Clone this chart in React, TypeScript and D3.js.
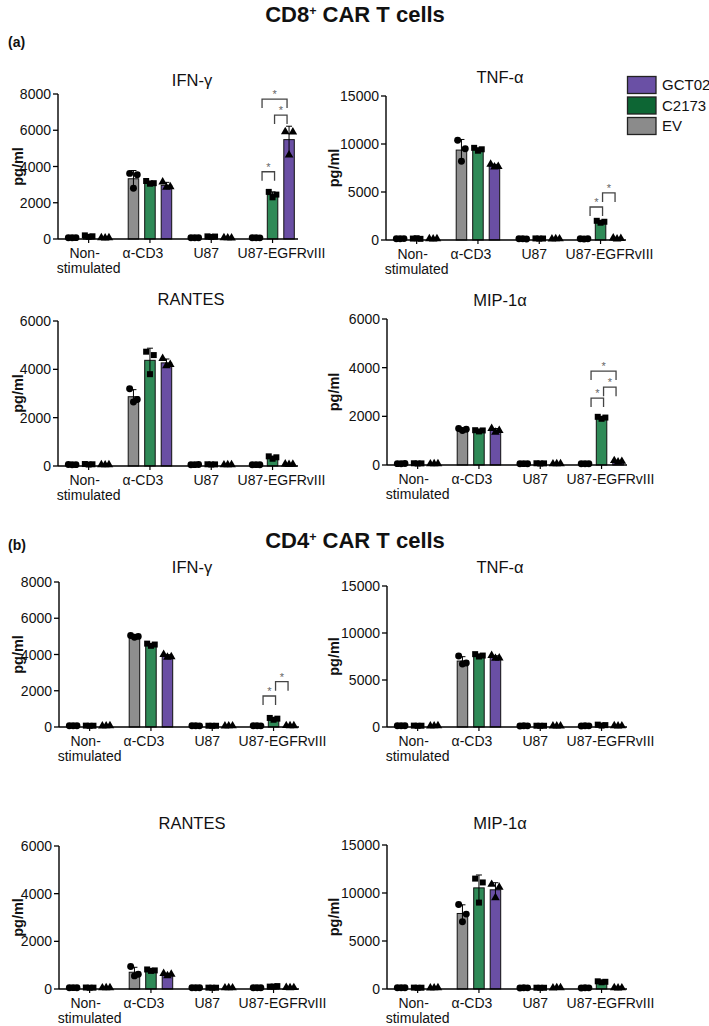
import React from "react";
import * as d3 from "d3";

// ---------- data ----------
const CATEGORIES = ["Non-stimulated", "α-CD3", "U87", "U87-EGFRvIII"];
const CATEGORY_LINES = [["Non-", "stimulated"], ["α-CD3"], ["U87"], ["U87-EGFRvIII"]];
const SERIES = ["EV", "C2173", "GCT02"];
const LEGEND_ORDER = ["GCT02", "C2173", "EV"];

// replicates: [series EV, C2173, GCT02][category][replicate]
const CD8_IFNG = [
  [[15, 10, 20], [3620, 2800, 3550], [10, 15, 12], [10, 15, 8]],
  [[200, 120, 150], [3200, 3050, 3080], [90, 60, 80], [2600, 2300, 2450]],
  [[10, 5, 12], [3150, 2850, 2880], [10, 8, 5], [5920, 4630, 5900]],
];
const CD8_TNFA = [
  [[30, 20, 40], [10400, 8200, 9500], [20, 30, 10], [20, 10, 30]],
  [[150, 80, 120], [9600, 9300, 9450], [60, 40, 50], [2000, 1800, 1900]],
  [[20, 10, 30], [7900, 7600, 7650], [10, 20, 15], [200, 100, 150]],
];
const CD8_RANTES = [
  [[20, 10, 15], [3200, 2650, 2750], [10, 15, 20], [10, 15, 12]],
  [[40, 20, 30], [4730, 3800, 4590], [30, 20, 25], [400, 300, 360]],
  [[10, 5, 8], [4450, 4150, 4200], [5, 10, 8], [40, 20, 30]],
];
const CD8_MIP = [
  [[15, 10, 20], [1500, 1420, 1470], [10, 15, 12], [10, 12, 8]],
  [[30, 20, 25], [1430, 1380, 1420], [30, 20, 25], [1980, 1900, 1950]],
  [[5, 8, 10], [1500, 1350, 1420], [5, 10, 8], [180, 120, 150]],
];
const CD4_IFNG = [
  [[10, 15, 12], [5050, 4950, 5000], [10, 12, 8], [10, 12, 8]],
  [[20, 10, 15], [4600, 4480, 4550], [15, 10, 12], [500, 400, 460]],
  [[5, 8, 10], [4000, 3850, 3880], [5, 8, 6], [20, 10, 15]],
];
const CD4_TNFA = [
  [[20, 30, 25], [7550, 6700, 6800], [10, 20, 15], [10, 20, 15]],
  [[40, 20, 30], [7750, 7500, 7600], [30, 20, 25], [250, 150, 200]],
  [[10, 15, 20], [7600, 7300, 7350], [10, 5, 8], [20, 10, 15]],
];
const CD4_RANTES = [
  [[10, 15, 12], [940, 550, 620], [10, 12, 8], [10, 12, 8]],
  [[20, 10, 15], [820, 760, 780], [15, 10, 12], [100, 60, 80]],
  [[5, 8, 10], [650, 560, 620], [5, 8, 6], [20, 10, 15]],
];
const CD4_MIP = [
  [[20, 30, 25], [8800, 7000, 7800], [10, 20, 15], [10, 20, 15]],
  [[40, 20, 30], [11500, 9000, 11100], [30, 20, 25], [800, 700, 750]],
  [[10, 15, 20], [10900, 9500, 10600], [10, 40, 20], [20, 10, 15]],
];

// significance brackets (category U87-EGFRvIII), height in pg/ml
const CD8_IFNG_SIG = [
  { from: "EV", to: "C2173", at: 3710 },
  { from: "C2173", to: "GCT02", at: 6840 },
  { from: "EV", to: "GCT02", at: 7720 },
];
const CD8_TNFA_SIG = [
  { from: "EV", to: "C2173", at: 3440 },
  { from: "C2173", to: "GCT02", at: 4900 },
];
const CD8_MIP_SIG = [
  { from: "EV", to: "C2173", at: 2750 },
  { from: "C2173", to: "GCT02", at: 3200 },
  { from: "EV", to: "GCT02", at: 3860 },
];
const CD4_IFNG_SIG = [
  { from: "EV", to: "C2173", at: 1710 },
  { from: "C2173", to: "GCT02", at: 2500 },
];

// ---------- styles / layout ----------
const FONT = "'Liberation Sans', Arial, Helvetica, sans-serif";
const COLORS: Record<string, string> = { EV: "#8e8e8e", C2173: "#2f8a57", GCT02: "#6a4fa4" };
const LEGEND_COLORS: Record<string, string> = { EV: "#8b8b8b", C2173: "#0d6634", GCT02: "#6a50a5" };
const SYMBOLS: Record<string, any> = { EV: d3.symbolCircle, C2173: d3.symbolSquare, GCT02: d3.symbolTriangle };
const BRACKET_DX: Record<string, number> = { EV: 6, C2173: 2, GCT02: -2 };
const LABEL_DX = [-4, -7, -5, 9];

const PANELS = [
  { title: "IFN-γ", data: CD8_IFNG, max: 8000, step: 2000, ax: 58, yTop: 94, y0: 239, tx: 192, ty: 80, sig: CD8_IFNG_SIG },
  { title: "TNF-α", data: CD8_TNFA, max: 15000, step: 5000, ax: 386, yTop: 96, y0: 240, tx: 500, ty: 77, sig: CD8_TNFA_SIG },
  { title: "RANTES", data: CD8_RANTES, max: 6000, step: 2000, ax: 58, yTop: 321, y0: 466, tx: 191, ty: 299, sig: [] },
  { title: "MIP-1α", data: CD8_MIP, max: 6000, step: 2000, ax: 387, yTop: 319, y0: 465, tx: 500, ty: 300, sig: CD8_MIP_SIG },
  { title: "IFN-γ", data: CD4_IFNG, max: 8000, step: 2000, ax: 59, yTop: 582, y0: 727, tx: 192, ty: 567, sig: CD4_IFNG_SIG },
  { title: "TNF-α", data: CD4_TNFA, max: 15000, step: 5000, ax: 387, yTop: 586, y0: 727, tx: 500, ty: 567, sig: [] },
  { title: "RANTES", data: CD4_RANTES, max: 6000, step: 2000, ax: 59, yTop: 846, y0: 989, tx: 192, ty: 823, sig: [] },
  { title: "MIP-1α", data: CD4_MIP, max: 15000, step: 5000, ax: 387, yTop: 845, y0: 989, tx: 500, ty: 823, sig: [] },
];

function Panel({ p }: { p: any }) {
  const y = d3.scaleLinear().domain([0, p.max]).range([p.y0, p.yTop]);
  const x = d3.scaleBand().domain(CATEGORIES).range([p.ax, p.ax + 245.2]);
  const off = d3.scalePoint().domain(SERIES).range([-16.5, 16.5]);
  const jitter = d3.scalePoint().domain(["0", "1", "2"]).range([-3.8, 3.8]);
  const barW = 10.5;
  const ticks = d3.range(0, p.max + 1, p.step);
  const cx = (c: string) => (x(c) as number) + x.bandwidth() / 2;
  const sx = (c: string, s: string) => cx(c) + (off(s) as number);
  const axisEnd = p.ax + 240;
  const pgX = p.ax < 200 ? 18 : 334;

  const marks: any[] = [];
  SERIES.forEach((s, si) => {
    CATEGORIES.forEach((c, ci) => {
      const reps: number[] = p.data[si][ci];
      const m = d3.mean(reps) as number;
      const sd = d3.deviation(reps) as number;
      const bx = sx(c, s);
      const sym = d3.symbol().type(SYMBOLS[s]).size(s === "C2173" ? 36 : s === "GCT02" ? 32 : 38)();
      marks.push(
        <g key={s + c}>
          <rect x={bx - barW / 2} y={y(m)} width={barW} height={p.y0 - y(m)} fill={COLORS[s]} stroke="#111" strokeWidth={1} />
          <line x1={bx} x2={bx} y1={y(m + sd)} y2={y(Math.max(0, m - sd))} stroke="#000" strokeWidth={1} />
          <line x1={bx - 3} x2={bx + 3} y1={y(m + sd)} y2={y(m + sd)} stroke="#000" strokeWidth={1} />
          {reps.map((v, ri) => (
            <path key={ri} d={sym as string} transform={`translate(${bx + (jitter(String(ri)) as number)},${y(v) - (v < 100 ? 1 : 0)})`} fill="#000" />
          ))}
        </g>
      );
    });
  });

  const egf = CATEGORIES[3];
  return (
    <g fontFamily={FONT}>
      <text x={p.tx} y={p.ty + 5.5} textAnchor="middle" fontSize={16.5} fill="#111">{p.title}</text>
      <text transform={`translate(${pgX},${(p.yTop + p.y0) / 2}) rotate(-90)`} textAnchor="middle" dominantBaseline="central" fontSize={14.5} fontWeight="bold" fill="#111">pg/ml</text>
      {ticks.map((t: number) => (
        <g key={t}>
          <line x1={p.ax - 5} x2={p.ax} y1={y(t)} y2={y(t)} stroke="#000" strokeWidth={1.3} />
          <text x={p.ax - 7} y={y(t)} dy="0.36em" textAnchor="end" fontSize={14} fill="#111">{t}</text>
        </g>
      ))}
      {marks}
      <line x1={p.ax} x2={p.ax} y1={p.yTop} y2={p.y0} stroke="#000" strokeWidth={1.4} />
      <line x1={p.ax} x2={axisEnd} y1={p.y0} y2={p.y0} stroke="#000" strokeWidth={1.4} />
      {CATEGORIES.map((c, ci) => (
        <g key={c}>
          <line x1={cx(c)} x2={cx(c)} y1={p.y0} y2={p.y0 + 4} stroke="#000" strokeWidth={1.2} />
          {CATEGORY_LINES[ci].map((ln, li) => (
            <text key={li} x={cx(c) + LABEL_DX[ci] + (li === 1 ? 4 : 0)} y={p.y0 + 18.5 + li * 15.5} textAnchor="middle" fontSize={14} fill="#111">{ln}</text>
          ))}
        </g>
      ))}
      {p.sig.map((b: any, i: number) => {
        const x1 = sx(egf, b.from) + BRACKET_DX[b.from];
        const x2 = sx(egf, b.to) + BRACKET_DX[b.to];
        const yb = y(b.at);
        return (
          <g key={i}>
            <path d={`M${x1},${yb + 9}V${yb}H${x2}V${yb + 9}`} fill="none" stroke="#444" strokeWidth={1.3} />
            <text x={(x1 + x2) / 2} y={yb - 1} textAnchor="middle" fontSize={11} fill="#666">*</text>
          </g>
        );
      })}
    </g>
  );
}

function Legend() {
  return (
    <g fontFamily={FONT}>
      {LEGEND_ORDER.map((s, i) => (
        <g key={s}>
          <rect x={627.5} y={76.5 + i * 20.5} width={28.5} height={17} fill={LEGEND_COLORS[s]} stroke="#222" strokeWidth={1.3} />
          <text x={662} y={85 + i * 20.5} dy="0.36em" fontSize={15} fill="#111">{s}</text>
        </g>
      ))}
    </g>
  );
}

export default function App() {
  return (
    <svg width={709} height={1026} style={{ position: "absolute", left: 0, top: 0, background: "#fff" }}>
      <rect width={709} height={1026} fill="#fff" />
      <text x={355} y={22} textAnchor="middle" fontFamily={FONT} fontWeight="bold" fontSize={22} fill="#111">
        CD8<tspan dy={-7} fontSize={12.5}>+</tspan><tspan dy={7}> CAR T cells</tspan>
      </text>
      <text x={8} y={47} fontFamily={FONT} fontWeight="bold" fontSize={14} fill="#111">(a)</text>
      <text x={355} y={548} textAnchor="middle" fontFamily={FONT} fontWeight="bold" fontSize={22} fill="#111">
        CD4<tspan dy={-7} fontSize={12.5}>+</tspan><tspan dy={7}> CAR T cells</tspan>
      </text>
      <text x={8} y={550} fontFamily={FONT} fontWeight="bold" fontSize={14} fill="#111">(b)</text>
      {PANELS.map((p, i) => (
        <Panel key={i} p={p} />
      ))}
      <Legend />
    </svg>
  );
}
